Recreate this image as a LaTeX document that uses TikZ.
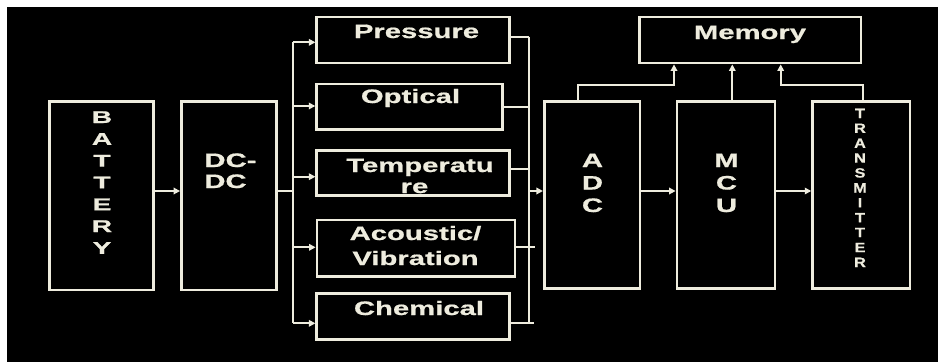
\documentclass[tikz,border=0pt]{standalone}
\usepackage{fontspec}
\newfontfamily\wideA[FakeStretch=1.5,BoldFeatures={FakeStretch=1.5,FakeBold=0.8}]{Liberation Sans}
\newfontfamily\wideB[FakeStretch=1.65,BoldFeatures={FakeStretch=1.65,FakeBold=0.8}]{Liberation Sans}
\newfontfamily\wideC[FakeStretch=1.2,BoldFeatures={FakeStretch=1.2,FakeBold=0.6}]{Liberation Sans}
\usetikzlibrary{arrows.meta}
\definecolor{cream}{RGB}{238,236,222}
\begin{document}
\begin{tikzpicture}[x=1pt,y=-1pt,
  box/.style={draw=cream,line width=2.8pt,inner sep=0pt},
  lbl/.style={text=cream,inner sep=0pt,anchor=base,font=\wideA\bfseries\fontsize{19.5}{22}\selectfont},
  lblb/.style={lbl,font=\wideB\bfseries\fontsize{17}{20}\selectfont},
  lblc/.style={lbl,font=\wideC\bfseries\fontsize{13.5}{15}\selectfont},
  conn/.style={draw=cream,line width=2pt},
  arr/.style={conn,-{Triangle[length=6.5pt,width=6.5pt]}}]
\useasboundingbox (0,0) rectangle (938,362);
\fill[white] (0,0) rectangle (938,362);
\fill[black] (7,7) rectangle (938,362);
% boxes
\node[box,minimum width=104,minimum height=188.5] (bat) at (101.5,195.75) {};
\node[box,minimum width=95,minimum height=188.5] (dc) at (229,195.75) {};
\node[box,minimum width=193,minimum height=46] (pres) at (413.3,40) {};
\node[box,minimum width=186,minimum height=45.7] (opt) at (409.7,106.8) {};
\node[box,minimum width=193,minimum height=45] (temp) at (413.3,173.2) {};
\node[box,minimum width=198,minimum height=56.7] (acou) at (416,248.3) {};
\node[box,minimum width=193,minimum height=46] (chem) at (413.3,316.7) {};
\node[box,minimum width=95.7,minimum height=187.4] (adc) at (592.2,195) {};
\node[box,minimum width=98,minimum height=187.4] (mcu) at (726,195) {};
\node[box,minimum width=97.3,minimum height=187.4] (tx) at (861.3,195) {};
\node[box,minimum width=221.7,minimum height=46] (mem) at (750.2,40) {};
% texts
\foreach \c [count=\i from 0] in {B,A,T,T,E,R,Y}
  \node[lblb] (bl\i) at (102,123+21.8*\i) {\c};
\node[lbl] (tdc1) at (230.5,167) {DC-};
\node[lbl] (tdc2) at (225.5,188) {DC};
\node[lbl] (tpres) at (416.5,38) {Pressure};
\node[lbl] (topt) at (410.5,103) {Optical};
\node[lbl] (ttemp1) at (420,172) {Temperatu};
\node[lbl] (ttemp2) at (414.5,193) {re};
\node[lbl] (tac1) at (415.5,240) {Acoustic/};
\node[lbl] (tac2) at (415.5,265) {Vibration};
\node[lbl] (tchem) at (419,315) {Chemical};
\node[lbl] (tmem) at (750,39) {Memory};
\foreach \c [count=\i from 0] in {A,D,C}
  \node[lbl] (al\i) at (592.5,167+22.5*\i) {\c};
\foreach \c [count=\i from 0] in {M,C,U}
  \node[lbl] (ml\i) at (726.5,167+22.5*\i) {\c};
\foreach \c [count=\i from 0] in {T,R,A,N,S,M,I,T,T,E,R}
  \node[lblc] (tl\i) at (860,118+14.9*\i) {\c};
% connectors
\coordinate (lbt) at (293,42.3);
\coordinate (lbb) at (293,323.3);
\coordinate (lbm) at (293,191);
\draw[arr] (bat.east |- lbm) -- (dc.west |- lbm);
\draw[conn] (dc.east |- lbm) -- (lbm);
\draw[conn] (lbt) -- (lbb);
\foreach \n/\y in {pres/42.3,opt/106,temp/176.7,acou/247.3,chem/323.3}
  \draw[arr] (293,\y) -- (\n.west |- 0,\y);
\coordinate (rbt) at (528.7,36.7);
\coordinate (rbb) at (528.7,323.3);
\coordinate (rbm) at (528.7,191);
\draw[conn] (rbt) -- (rbb);
\draw[conn] (pres.east |- rbt) -- (rbt);
\draw[conn] (opt.east |- 0,106.7) -- (528.7,106.7);
\draw[conn] (temp.east |- 0,169.3) -- (528.7,169.3);
\draw[conn] (acou.east |- 0,246.7) -- (535,246.7);
\draw[conn] (chem.east |- rbb) -- (534,323.3);
\draw[arr] (rbm) -- (adc.west |- rbm);
\draw[arr] (adc.east |- rbm) -- (mcu.west |- rbm);
\draw[arr] (mcu.east |- rbm) -- (tx.west |- rbm);
\draw[arr] (adc.north -| 578.3,0) -- (578.3,85) -- (674,85) -- (mem.south -| 674,0);
\draw[arr] (mcu.north -| 732.3,0) -- (mem.south -| 732.3,0);
\draw[arr] (tx.north -| 863.3,0) -- (863.3,85) -- (780.7,85) -- (mem.south -| 780.7,0);
\end{tikzpicture}
\end{document}
